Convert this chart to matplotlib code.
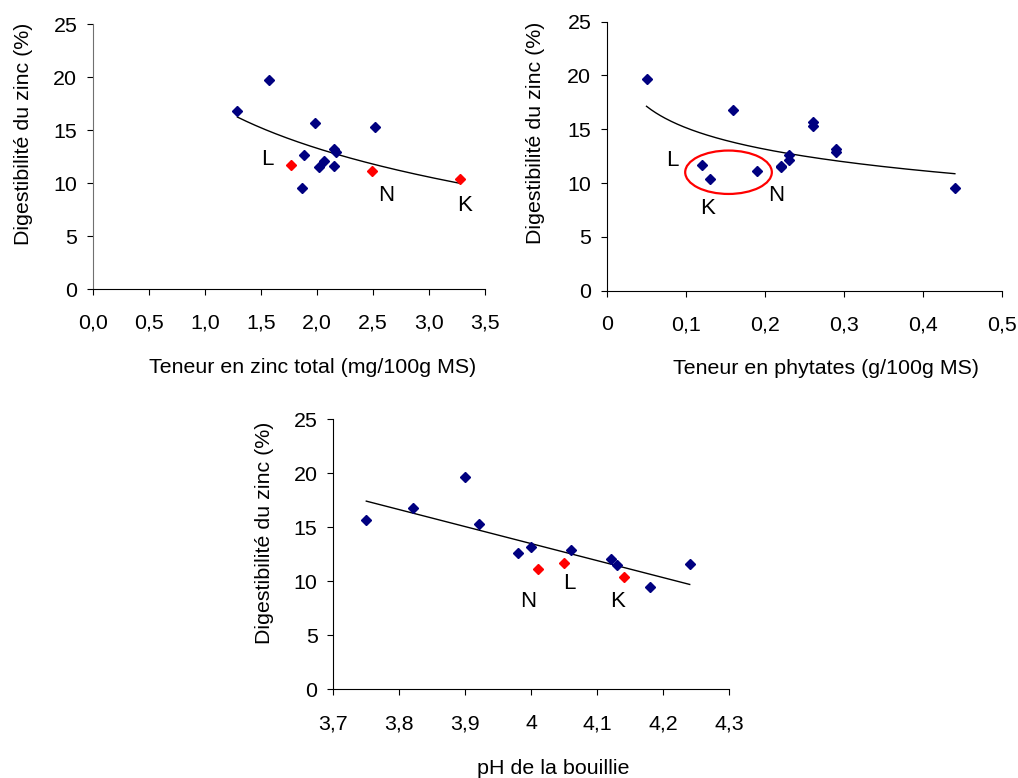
import numpy as np
import matplotlib
matplotlib.use('Agg')
import matplotlib.pyplot as plt
from matplotlib.patches import Ellipse

plt.rcParams['font.family'] = ['Liberation Sans', 'DejaVu Sans']

# digestibilite du zinc (%) - samples without a letter (blue) and L, N, K (red)
digest = [19.7, 16.8, 15.7, 15.3, 13.2, 12.9, 12.6, 12.1, 11.6, 11.5, 9.5]
digest_lnk = [11.7, 11.1, 10.4]
lnk_names = ['L', 'N', 'K']

# x values of each panel, same order as digest
zinc_total = [1.57, 1.29, 1.98, 2.52, 2.15, 2.17, 1.88, 2.06, 2.15, 2.02, 1.87]
zinc_total_lnk = [1.77, 2.49, 3.28]
phytates = [0.05, 0.16, 0.26, 0.26, 0.29, 0.29, 0.23, 0.23, 0.22, 0.22, 0.44]
phytates_lnk = [0.12, 0.19, 0.13]
ph = [3.90, 3.82, 3.75, 3.92, 4.00, 4.06, 3.98, 4.12, 4.24, 4.13, 4.18]
ph_lnk = [4.05, 4.01, 4.14]

y_ticks = [0, 5, 10, 15, 20, 25]
zinc_ticks = [0.0, 0.5, 1.0, 1.5, 2.0, 2.5, 3.0, 3.5]
zinc_ticklabels = ['0,0', '0,5', '1,0', '1,5', '2,0', '2,5', '3,0', '3,5']
phyt_ticks = [0.0, 0.1, 0.2, 0.3, 0.4, 0.5]
phyt_ticklabels = ['0', '0,1', '0,2', '0,3', '0,4', '0,5']
ph_ticks = [3.7, 3.8, 3.9, 4.0, 4.1, 4.2, 4.3]
ph_ticklabels = ['3,7', '3,8', '3,9', '4', '4,1', '4,2', '4,3']

BLUE = '#000080'
RED = '#ff0000'
FS = 15.4

W, H = 1018, 778
fig = plt.figure(figsize=(W / 100, H / 100), dpi=100)


def px_axes(left, top, right, bottom):
  return fig.add_axes([left / W, 1 - bottom / H, (right - left) / W, (bottom - top) / H])


def style(ax, xticks, xlabels, xlim, xlabel, xlab_pos):
  ax.set_xlim(*xlim)
  ax.set_ylim(0, 25)
  ax.set_xticks(xticks)
  ax.set_xticklabels(xlabels)
  ax.set_yticks(y_ticks)
  for s in ('top', 'right'):
    ax.spines[s].set_visible(False)
  for s in ('left', 'bottom'):
    ax.spines[s].set_linewidth(0.8)
  ax.tick_params(axis='both', direction='out', length=4.3, width=0.8, labelsize=FS)
  ax.tick_params(axis='x', pad=13.5)
  ax.tick_params(axis='y', pad=7)
  ax.set_xlabel(xlabel, fontsize=FS)
  ax.xaxis.set_label_coords(*xlab_pos)
  ax.set_ylabel('Digestibilité du zinc (%)', fontsize=FS)


def points(ax, x, x_lnk, lnk_color):
  ax.plot(x, digest, 'D', color=BLUE, markersize=5.2, linestyle='none', zorder=3)
  ax.plot(x_lnk, digest_lnk, 'D', color=lnk_color, markersize=5.2, linestyle='none', zorder=3)


def trend(ax, x, x_lnk, log=True):
  xs = np.array(x + x_lnk)
  ys = np.array(digest + digest_lnk)
  xx = np.linspace(xs.min(), xs.max(), 200)
  if log:
    b, a = np.polyfit(np.log(xs), ys, 1)
    yy = a + b * np.log(xx)
  else:
    b, a = np.polyfit(xs, ys, 1)
    yy = a + b * xx
  ax.plot(xx, yy, color='black', linewidth=1.0, zorder=2)


# panel 1 : zinc total
ax1 = px_axes(93, 24, 485, 289)
style(ax1, zinc_ticks, zinc_ticklabels, (0, 3.5), 'Teneur en zinc total (mg/100g MS)', (0.56, -0.262))
ax1.yaxis.set_label_coords(-0.153, 0.585)
ax1.spines['left'].set_color('#707070')
points(ax1, zinc_total, zinc_total_lnk, RED)
trend(ax1, zinc_total, zinc_total_lnk)
for name, pos in zip(lnk_names, [(1.56, 12.2), (2.62, 8.8), (3.32, 7.9)]):
  ax1.text(pos[0], pos[1], name, fontsize=16, ha='center', va='center')

# panel 2 : phytates
ax2 = px_axes(607, 21.5, 1002.3, 290.7)
style(ax2, phyt_ticks, phyt_ticklabels, (0, 0.5), 'Teneur en phytates (g/100g MS)', (0.554, -0.252))
ax2.yaxis.set_label_coords(-0.156, 0.586)
points(ax2, phytates, phytates_lnk, BLUE)
trend(ax2, phytates, phytates_lnk)
for name, pos in zip(lnk_names, [(0.082, 12.05), (0.214, 8.8), (0.127, 7.6)]):
  ax2.text(pos[0], pos[1], name, fontsize=16, ha='center', va='center')
ax2.add_patch(Ellipse((0.1537, 11.0), 0.1096, 4.03, fill=False, edgecolor=RED, linewidth=1.6, zorder=4))

# panel 3 : pH
ax3 = px_axes(333.3, 419.3, 729.3, 689.3)
style(ax3, ph_ticks, ph_ticklabels, (3.7, 4.3), 'pH de la bouillie', (0.555, -0.258))
ax3.yaxis.set_label_coords(-0.149, 0.579)
points(ax3, ph, ph_lnk, RED)
trend(ax3, ph, ph_lnk, log=False)
for name, pos in zip(lnk_names, [(4.057, 9.8), (3.995, 8.1), (4.131, 8.1)]):
  ax3.text(pos[0], pos[1], name, fontsize=16, ha='center', va='center')

fig.savefig('out.png', dpi=100)
